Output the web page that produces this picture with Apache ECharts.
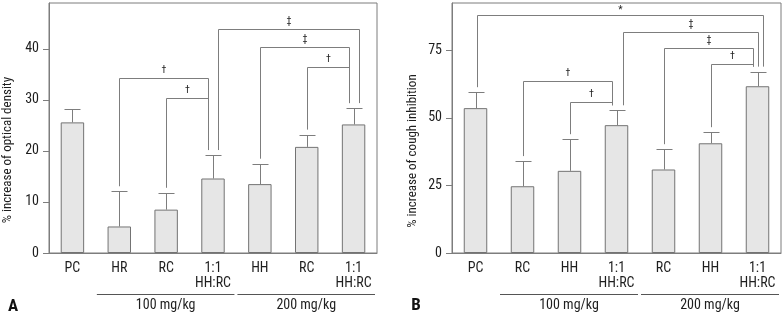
<!DOCTYPE html>
<html lang="en">
<head>
<meta charset="UTF-8">
<title>Optical density / cough inhibition</title>
<script src="https://cdn.jsdelivr.net/npm/echarts@6/dist/echarts.min.js"></script>
</head>
<body style="margin:0">
<div id="main" style="width:783px;height:315px;"></div>
<script type="text/javascript">
// panel A - optical density
var catsA = ['PC', 'HR', 'RC', '1:1\nHH:RC', 'HH', 'RC', '1:1\nHH:RC'];
var meanA = [25.6, 5.2, 8.5, 14.6, 13.5, 20.8, 25.2];
var errA = [28.2, 12.1, 11.8, 19.2, 17.5, 23.2, 28.4];
var ticksA = [0, 10, 20, 30, 40];
// brackets: [from, to, level]
var brA = [[1, 3, 34.3], [2, 3, 30.3], [3, 6, 43.9], [4, 6, 40.3], [5, 6, 36.4]];
var marksA = ['†', '†', '‡', '‡', '†'];

// panel B - cough inhibition
var catsB = ['PC', 'RC', 'HH', '1:1\nHH:RC', 'RC', 'HH', '1:1\nHH:RC'];
var meanB = [53.6, 24.7, 30.4, 47.3, 30.9, 40.6, 61.7];
var errB = [59.5, 34.0, 42.1, 52.8, 38.4, 44.7, 67.1];
var ticksB = [0, 25, 50, 75];
var brB = [[0, 6, 87.9], [3, 6, 81.6], [4, 6, 76.0], [5, 6, 69.8], [1, 3, 63.6], [2, 3, 55.8]];
var marksB = ['*', '‡', '‡', '†', '†', '†'];

var groups = [[1, 3], [4, 6]];
var groupNames = ['100 mg/kg', '200 mg/kg'];

// leg offsets (px) so brackets meeting on one bar don't overlap
var shiftA = [[0, -5], [0, -5], [5, 5], [0, -5], [0, -5]];
var shiftB = [[1, 5], [6, 0], [0, -5], [0, -5], [0, -5], [0, -5]];

var font = "'Liberation Sans Narrow','Roboto Condensed',Roboto,sans-serif";
var lineCol = '#7d7d7d';
var textCol = '#1e1e1e';

function px(v) { return Math.round(v) + 0.5; }

function errRender(params, api) {
    var i = api.value(0);
    var p0 = api.coord([i, api.value(1)]);
    var p1 = api.coord([i, api.value(2)]);
    var x = px(p0[0]), y = px(p1[1]);
    return {
        type: 'group', children: [
            {type: 'line', shape: {x1: x, y1: p0[1], x2: x, y2: y}, style: {stroke: lineCol, lineWidth: 1}},
            {type: 'line', shape: {x1: x - 8, y1: y, x2: x + 8, y2: y}, style: {stroke: lineCol, lineWidth: 1}}
        ]
    };
}

function bracketRender(br, err, marks, shift) {
    return function (params, api) {
        var k = params.dataIndex, b = br[k];
        var a = api.coord([b[0], b[2]]), c = api.coord([b[1], b[2]]);
        var xa = px(a[0] + shift[k][0]), xc = px(c[0] + shift[k][1]), y = px(a[1]);
        var ya = api.coord([b[0], err[b[0]]])[1] - 5;
        var yc = api.coord([b[1], err[b[1]]])[1] - 5;
        return {
            type: 'group', children: [
                {type: 'polyline', shape: {points: [[xa, ya], [xa, y], [xc, y], [xc, yc]]},
                    style: {stroke: lineCol, fill: null, lineWidth: 1}},
                {type: 'text', x: (xa + xc) / 2, y: y - (marks[k] === '*' ? 5 : 8),
                    style: {text: marks[k], fill: textCol, font: '10px ' + font, align: 'center', verticalAlign: 'middle'}}
            ]
        };
    };
}

function groupRender(params, api) {
    var g = groups[params.dataIndex];
    var band = api.size([1, 0])[0];
    var s = api.coord([g[0], 0]), e = api.coord([g[1], 0]);
    var x1 = s[0] - band / 2 + 1, x2 = e[0] + band / 2 - 2, y = px(s[1] + 41);
    return {
        type: 'group', children: [
            {type: 'line', shape: {x1: x1, y1: y, x2: x2, y2: y}, style: {stroke: '#555', lineWidth: 1}},
            {type: 'text', x: (x1 + x2) / 2, y: y + 11,
                style: {text: groupNames[params.dataIndex], fill: textCol, font: '14px ' + font, align: 'center', verticalAlign: 'middle'}}
        ]
    };
}

function xAxisOf(idx, cats) {
    return {
        type: 'category', gridIndex: idx, data: cats,
        axisLine: {lineStyle: {color: lineCol}},
        axisTick: {length: 7, lineStyle: {color: lineCol}},
        axisLabel: {interval: 0, margin: 8, fontSize: 14, lineHeight: 15, color: textCol, fontFamily: font}
    };
}

function yAxisOf(idx, max, ticks) {
    return {
        type: 'value', gridIndex: idx, min: 0, max: max,
        axisLine: {show: true, lineStyle: {color: lineCol}},
        axisTick: {show: true, length: 6, lineStyle: {color: lineCol}, customValues: ticks},
        axisLabel: {margin: 10, fontSize: 14, color: textCol, fontFamily: font, customValues: ticks},
        splitLine: {show: false}
    };
}

function panelSeries(idx, mean, err, br, marks, shift) {
    return [{
        type: 'bar', xAxisIndex: idx, yAxisIndex: idx, data: mean, barWidth: '50%', silent: true,
        itemStyle: {color: '#e6e6e6', borderColor: '#737373', borderWidth: 1}
    }, {
        type: 'custom', xAxisIndex: idx, yAxisIndex: idx, silent: true,
        data: mean.map(function (m, i) { return [i, m, err[i]]; }),
        renderItem: errRender
    }, {
        type: 'custom', xAxisIndex: idx, yAxisIndex: idx, silent: true,
        data: br, renderItem: bracketRender(br, err, marks, shift)
    }, {
        type: 'custom', xAxisIndex: idx, yAxisIndex: idx, silent: true,
        data: groups, renderItem: groupRender
    }];
}

var myChart = echarts.init(document.getElementById('main'));
var option = {
    backgroundColor: '#fff',
    animation: false,
    grid: [
        {left: 49, top: 3, width: 328, height: 250, show: true, borderColor: lineCol, borderWidth: 1},
        {left: 452, top: 3, width: 329, height: 250, show: true, borderColor: lineCol, borderWidth: 1}
    ],
    xAxis: [xAxisOf(0, catsA), xAxisOf(1, catsB)],
    yAxis: [yAxisOf(0, 49, ticksA), yAxisOf(1, 92.5, ticksB)],
    graphic: [
        {type: 'text', x: 8, y: 150, rotation: Math.PI / 2,
            style: {text: '% increase of optical density', fill: textCol, font: '13px ' + font, align: 'center', verticalAlign: 'middle'}},
        {type: 'text', x: 413, y: 151, rotation: Math.PI / 2,
            style: {text: '% increase of cough inhibition', fill: textCol, font: '13px ' + font, align: 'center', verticalAlign: 'middle'}},
        {type: 'text', x: 13, y: 307,
            style: {text: 'A', fill: '#111', font: 'bold 17px ' + font, align: 'center', verticalAlign: 'middle'}},
        {type: 'text', x: 416, y: 306,
            style: {text: 'B', fill: '#111', font: 'bold 17px ' + font, align: 'center', verticalAlign: 'middle'}}
    ],
    series: panelSeries(0, meanA, errA, brA, marksA, shiftA)
        .concat(panelSeries(1, meanB, errB, brB, marksB, shiftB))
};
myChart.setOption(option);
</script>
</body>
</html>
